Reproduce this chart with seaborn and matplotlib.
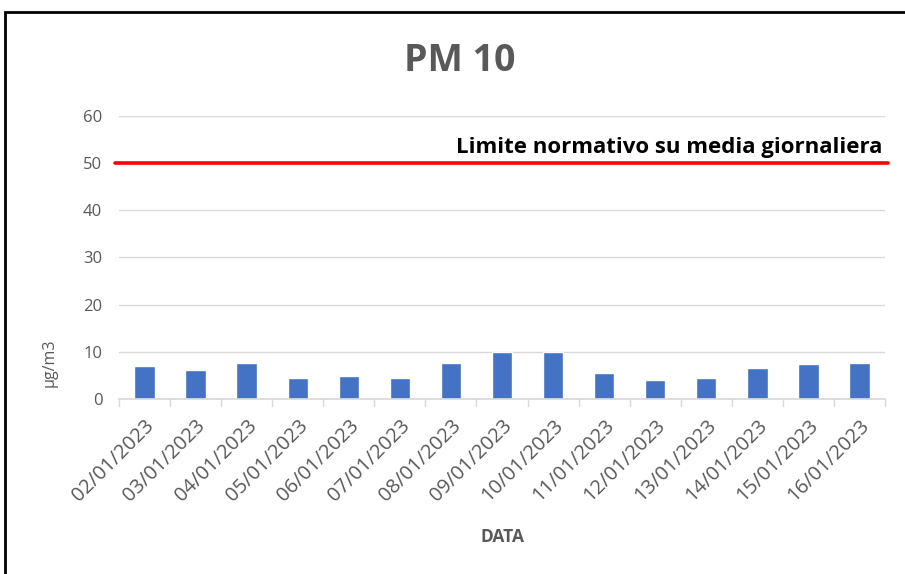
import matplotlib
matplotlib.use("Agg")
import matplotlib.pyplot as plt
import seaborn as sns
import pandas as pd
from matplotlib.patches import Rectangle

# -------------------------
# Data
# -------------------------
dates = ["02/01/2023", "03/01/2023", "04/01/2023", "05/01/2023", "06/01/2023",
         "07/01/2023", "08/01/2023", "09/01/2023", "10/01/2023", "11/01/2023",
         "12/01/2023", "13/01/2023", "14/01/2023", "15/01/2023", "16/01/2023"]
pm10 = [7.0, 6.1, 7.7, 4.5, 4.9, 4.5, 7.7, 9.9, 9.9, 5.4, 4.1, 4.5, 6.6, 7.4, 7.7]
limit_value = 50
limit_label = "Limite normativo su media giornaliera"

df = pd.DataFrame({"data": dates, "pm10": pm10})

# -------------------------
# Style
# -------------------------
sns.set_theme(style="white")
plt.rcParams["font.family"] = ["Open Sans", "DejaVu Sans"]
grey = "#595959"

fig = plt.figure(figsize=(9.05, 5.74), dpi=100)
ax = fig.add_axes([0.1315, 0.305, 0.8464, 0.493])

sns.barplot(data=df, x="data", y="pm10", color="#4472C4", width=0.4,
            saturation=1, ax=ax)

ax.axhline(limit_value, xmin=-0.005, xmax=1.004, color="#FF0000", lw=2.6,
           zorder=3, clip_on=False)
ax.text(len(dates) - 0.56, limit_value + 2.2, limit_label, ha="right", va="baseline",
        fontsize=16, fontweight="bold", color="black")

ax.set_ylim(0, 60)
ax.set_yticks(range(0, 61, 10))
ax.set_xlim(-0.5, len(dates) - 0.5)
ax.yaxis.grid(True, color="#D9D9D9", lw=1)
ax.set_axisbelow(True)

for s in ["top", "right", "left"]:
    ax.spines[s].set_visible(False)
ax.spines["bottom"].set_color("#D9D9D9")

# tick marks between categories
ax.set_xticks(range(len(dates)))
ax.set_xticklabels(dates, rotation=45, ha="right", rotation_mode="anchor",
                   fontsize=14.5, color=grey)
ax.tick_params(axis="x", length=0, pad=12)
for i in range(len(dates) + 1):
    ax.plot([i - 0.5, i - 0.5], [0, -1.4], color="#D9D9D9", lw=1, clip_on=False)
ax.tick_params(axis="y", length=0, labelsize=12, labelcolor=grey, pad=12)

ax.set_xlabel("DATA", fontsize=12.5, fontweight="bold", color=grey, labelpad=16)
ax.set_ylabel("µg/m3", fontsize=11.5, color=grey)
ax.yaxis.set_label_coords(-0.08, 0.127)

fig.text(0.508, 0.893, "PM 10", ha="center", va="center",
         fontsize=27, fontweight="bold", color=grey)

# frame around the chart
fig.patches.append(Rectangle((5 / 905, -0.05), 1.2, 1.05 - 12 / 574,
                             transform=fig.transFigure, fill=False,
                             edgecolor="black", lw=2))

fig.savefig("out.png", dpi=100)
